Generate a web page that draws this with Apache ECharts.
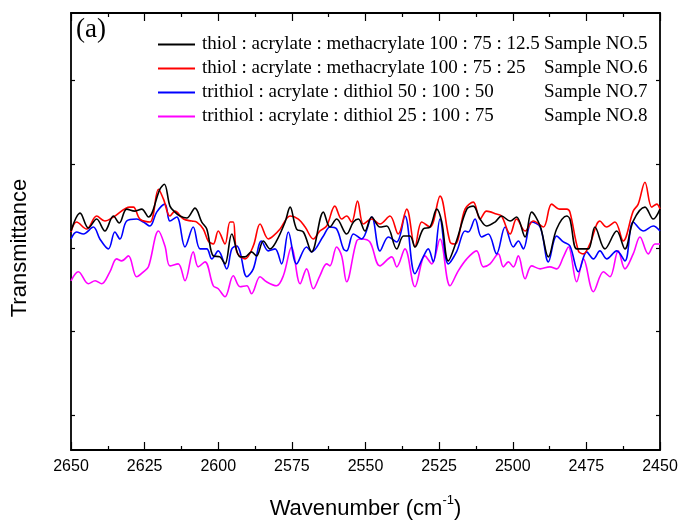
<!DOCTYPE html>
<html>
<head>
<meta charset="utf-8">
<script src="https://cdn.jsdelivr.net/npm/echarts@6/dist/echarts.min.js"></script>
<style>
  html, body { margin: 0; padding: 0; background: #fff; }
  #main { width: 683px; height: 525px; }
</style>
</head>
<body>
<div id="main"></div>
<script>
// wavenumber (cm-1), transmittance (a.u.)
var sample5 = [
  [2650, 220], [2646.9, 238], [2644.1, 223], [2641.3, 232], [2638.5, 220], [2635.6, 235],
  [2633.6, 228], [2631.1, 242], [2628.3, 240], [2626.0, 242], [2623.7, 234], [2619.8, 262],
  [2618.3, 267], [2616.4, 245], [2614.7, 239], [2613.0, 235], [2610.7, 233], [2607.9, 243],
  [2605.6, 229], [2603.9, 222], [2601.7, 195], [2599.4, 194], [2597.7, 187], [2595.4, 217],
  [2592.6, 194], [2590.9, 194], [2588.7, 199], [2587.0, 195], [2584.7, 210], [2582.4, 202],
  [2580.2, 210], [2577.3, 229], [2575.6, 244], [2573.4, 222], [2571.1, 219], [2568.3, 199],
  [2564.3, 239], [2562.1, 224], [2559.8, 232], [2556.4, 217], [2554.1, 229], [2552.4, 232],
  [2550.2, 220], [2547.9, 234], [2545.1, 224], [2542.8, 225], [2539.4, 202], [2537.1, 215],
  [2534.9, 215], [2533.2, 204], [2530.4, 222], [2528.1, 224], [2525.8, 242], [2524.1, 229],
  [2521.9, 190], [2519.1, 210], [2515.6, 242], [2513.4, 245], [2511.1, 232], [2508.9, 225],
  [2506.0, 229], [2503.8, 235], [2500.9, 230], [2498.7, 234], [2495.8, 214], [2493.6, 239],
  [2490.7, 225], [2487.9, 194], [2485.1, 222], [2481.7, 235], [2480.6, 232], [2478.3, 202],
  [2476.1, 202], [2474.3, 202], [2472.1, 224], [2468.7, 202], [2464.7, 220], [2461.9, 202],
  [2459.1, 230], [2455.1, 244], [2452.3, 232], [2450, 242]
];
var sample6 = [
  [2650, 219], [2648.1, 229], [2644.7, 222], [2641.3, 235], [2638.5, 230], [2635.6, 234],
  [2630.0, 244], [2628.8, 244], [2626.6, 232], [2623.2, 229], [2620.3, 262], [2618.6, 252],
  [2616.4, 235], [2614.7, 240], [2611.8, 232], [2609.0, 230], [2607.3, 229], [2605.1, 222],
  [2603.4, 210], [2601.7, 207], [2600.0, 220], [2597.7, 207], [2596.0, 229], [2594.9, 229],
  [2593.7, 199], [2590.9, 192], [2588.1, 205], [2585.8, 227], [2583.0, 212], [2581.3, 215],
  [2579.0, 222], [2575.6, 235], [2572.8, 232], [2570.5, 224], [2567.7, 212], [2565.5, 220],
  [2563.2, 225], [2560.4, 245], [2558.1, 232], [2556.4, 235], [2554.7, 229], [2552.7, 250],
  [2550.7, 227], [2547.9, 232], [2545.1, 227], [2541.7, 235], [2538.9, 217], [2536.0, 242],
  [2533.2, 204], [2530.9, 229], [2528.1, 224], [2524.7, 255], [2521.3, 209], [2519.6, 207],
  [2516.2, 242], [2513.4, 249], [2511.1, 232], [2508.9, 240], [2505.5, 237], [2503.8, 235],
  [2500.9, 217], [2498.7, 232], [2495.8, 220], [2493.0, 230], [2489.6, 224], [2486.8, 247],
  [2484.0, 242], [2481.7, 242], [2480.6, 239], [2477.7, 200], [2476.0, 197], [2473.8, 207],
  [2470.4, 230], [2468.1, 224], [2465.3, 229], [2462.5, 210], [2459.1, 240], [2457.4, 247],
  [2455.1, 269], [2452.8, 244], [2451.1, 247], [2450, 242]
];
var sample7 = [
  [2650, 212], [2648.1, 219], [2645.8, 217], [2642.4, 224], [2640.2, 212], [2637.3, 202],
  [2635.1, 219], [2633.4, 212], [2631.1, 230], [2627.7, 232], [2625.4, 229], [2623.2, 225],
  [2620.9, 239], [2618.1, 247], [2616.4, 230], [2614.1, 234], [2611.3, 204], [2608.5, 224],
  [2606.2, 202], [2603.9, 202], [2602.2, 192], [2600.0, 200], [2597.1, 182], [2595.4, 202],
  [2593.7, 205], [2592.6, 199], [2590.3, 174], [2588.1, 182], [2585.3, 210], [2583.0, 200],
  [2580.7, 202], [2578.5, 187], [2576.2, 219], [2573.4, 187], [2570.0, 204], [2568.3, 199],
  [2564.3, 215], [2562.1, 224], [2559.8, 222], [2557.5, 202], [2556.4, 200], [2554.1, 217],
  [2551.3, 212], [2547.9, 234], [2545.1, 200], [2542.2, 214], [2539.4, 209], [2536.6, 235],
  [2533.2, 177], [2530.4, 194], [2528.7, 202], [2527.0, 189], [2524.7, 232], [2521.9, 187],
  [2519.1, 199], [2516.2, 220], [2515.1, 219], [2512.8, 232], [2510.6, 214], [2508.3, 217],
  [2505.5, 197], [2502.6, 224], [2499.8, 204], [2498.1, 210], [2496.4, 202], [2493.6, 229],
  [2490.7, 224], [2487.9, 189], [2485.1, 215], [2482.8, 209], [2480.6, 205], [2477.7, 179],
  [2474.9, 199], [2472.6, 192], [2470.4, 200], [2468.1, 192], [2464.7, 200], [2461.9, 190],
  [2459.1, 229], [2455.7, 220], [2452.3, 225], [2450, 220]
];
var sample8 = [
  [2650, 170], [2647.5, 179], [2644.1, 167], [2641.8, 170], [2639.6, 167], [2636.8, 179],
  [2634.5, 192], [2632.8, 190], [2630.5, 195], [2627.7, 174], [2625.4, 179], [2623.7, 184],
  [2620.3, 220], [2618.1, 205], [2616.4, 185], [2613.6, 187], [2611.3, 170], [2608.5, 199],
  [2606.8, 184], [2604.5, 189], [2601.7, 165], [2600.0, 162], [2597.7, 154], [2594.9, 175],
  [2592.6, 164], [2590.3, 165], [2588.7, 157], [2585.8, 174], [2583.6, 169], [2580.2, 165],
  [2577.9, 175], [2575.1, 204], [2572.2, 167], [2570.0, 182], [2567.7, 162], [2565.5, 175],
  [2563.2, 187], [2562.1, 185], [2559.8, 204], [2558.1, 195], [2556.4, 169], [2553.0, 210],
  [2551.3, 212], [2548.5, 209], [2545.1, 185], [2541.1, 194], [2539.4, 184], [2536.6, 202],
  [2533.2, 164], [2529.8, 195], [2527.5, 187], [2524.7, 212], [2521.3, 165], [2518.5, 180],
  [2515.6, 192], [2512.3, 200], [2510.0, 184], [2507.7, 187], [2504.9, 197], [2503.2, 184],
  [2501.5, 189], [2499.8, 184], [2498.1, 195], [2495.8, 172], [2493.6, 185], [2490.7, 182],
  [2487.4, 184], [2485.1, 182], [2482.8, 194], [2481.1, 204], [2478.3, 169], [2476.0, 192],
  [2472.6, 159], [2469.2, 179], [2467.0, 174], [2464.2, 200], [2461.9, 182], [2459.1, 197],
  [2456.8, 214], [2454.0, 197], [2451.7, 207], [2450, 207]
];

var seriesNames = [
  'thiol : acrylate : methacrylate 100 : 75 : 12.5',
  'thiol : acrylate : methacrylate 100 : 75 : 25',
  'trithiol : acrylate : dithiol 50 : 100 : 50',
  'trithiol : acrylate : dithiol 25 : 100 : 75'
];
var sampleLabels = ['Sample NO.5', 'Sample NO.6', 'Sample NO.7', 'Sample NO.8'];
var seriesColors = ['#000000', '#ff0000', '#0000ff', '#ff00ff'];
var yTicks = [35, 119, 203, 287, 371];

var chart = echarts.init(document.getElementById('main'));

var allData = [sample5, sample6, sample7, sample8];
var series = allData.map(function (d, i) {
  return {
    name: seriesNames[i],
    type: 'line',
    data: d,
    symbol: 'none',
    smooth: 0.35,
    lineStyle: { color: seriesColors[i], width: 1.6 },
    itemStyle: { color: seriesColors[i] },
    z: 10 - i
  };
});

var xBase = {
  type: 'value',
  min: 2450,
  max: 2650,
  interval: 25,
  inverse: true,
  splitLine: { show: false },
  axisLine: { onZero: false, lineStyle: { color: '#000', width: 1.8 } },
  axisTick: { inside: true, length: 8, lineStyle: { color: '#000', width: 1.2 } },
  minorTick: { show: true, splitNumber: 2, length: 4, lineStyle: { color: '#000', width: 1.2 } }
};

var yBase = {
  type: 'value',
  min: 0,
  max: 439,
  splitLine: { show: false },
  axisLabel: { show: false },
  axisLine: { show: true, onZero: false, lineStyle: { color: '#000', width: 1.8 } },
  axisTick: { show: true, inside: true, length: 4, customValues: yTicks, lineStyle: { color: '#000', width: 1.2 } }
};

chart.setOption({
  animation: false,
  grid: { left: 71, right: 23, top: 13, bottom: 73, show: false },
  legend: {
    orient: 'vertical',
    left: 158,
    top: 35,
    padding: 0,
    icon: 'rect',
    itemWidth: 37,
    itemHeight: 2,
    itemGap: 5,
    selectedMode: false,
    data: seriesNames,
    formatter: function (name) {
      var i = seriesNames.indexOf(name);
      return '{a|' + name + '}{b|' + sampleLabels[i] + '}';
    },
    textStyle: {
      fontFamily: 'Liberation Serif',
      fontSize: 19,
      color: '#000',
      padding: [0, 0, 0, 2],
      rich: {
        a: { fontFamily: 'Liberation Serif', fontSize: 19, color: '#000', width: 342, lineHeight: 20 },
        b: { fontFamily: 'Liberation Serif', fontSize: 19, color: '#000', lineHeight: 20 }
      }
    }
  },
  graphic: [{
    type: 'text',
    left: 76,
    top: 16,
    style: { text: '(a)', font: '27px "Liberation Serif"', fill: '#000' }
  }, {
    type: 'text',
    x: 20,
    y: 248,
    rotation: Math.PI / 2,
    style: {
      text: 'Transmittance',
      font: '22px "Liberation Sans"',
      fill: '#000',
      align: 'center',
      verticalAlign: 'middle'
    }
  }],
  xAxis: [
    Object.assign({}, xBase, {
      position: 'bottom',
      name: '{n|Wavenumber (cm}{s|-1}{n|)}',
      nameLocation: 'middle',
      nameGap: 44,
      nameTextStyle: {
        rich: {
          n: { fontFamily: 'Liberation Sans', fontSize: 22, color: '#000', verticalAlign: 'bottom', lineHeight: 26 },
          s: { fontFamily: 'Liberation Sans', fontSize: 13, color: '#000', verticalAlign: 'top', lineHeight: 26, padding: [0, 0, 12, 0] }
        }
      },
      axisLabel: {
        fontFamily: 'Liberation Sans', fontSize: 16, color: '#000', margin: 9,
        formatter: function (v) { return String(v); }
      }
    }),
    Object.assign({}, xBase, {
      position: 'top',
      axisLabel: { show: false }
    })
  ],
  yAxis: [
    Object.assign({}, yBase, { position: 'left' }),
    Object.assign({}, yBase, { position: 'right' })
  ],
  series: series
});
</script>
</body>
</html>
